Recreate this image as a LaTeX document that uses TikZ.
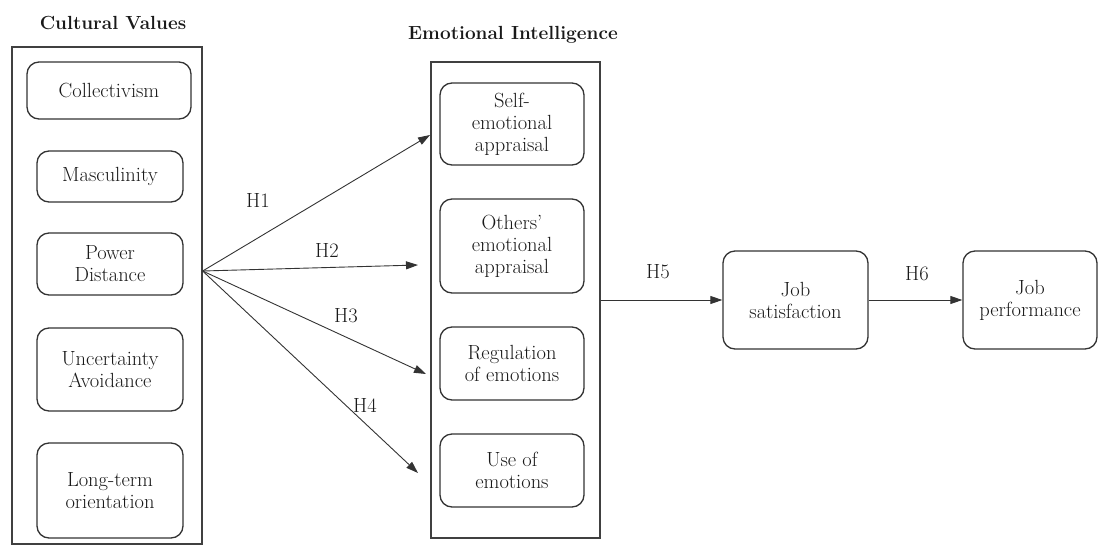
\documentclass[tikz,border=0pt]{standalone}
\usetikzlibrary{arrows.meta}
\begin{document}
\begin{tikzpicture}[x=1pt,y=-1pt,
  every node/.style={font=\fontsize{20.5}{22}\selectfont, text=black!90},
  inbox/.style={draw=black!80, line width=1.3pt, rounded corners=12pt, align=center, inner sep=0pt},
  outbox/.style={draw=black!75, line width=1.3pt, inner sep=0pt},
  ttl/.style={font=\fontsize{19}{22}\selectfont\bfseries},
  hyp/.style={font=\fontsize{20.5}{22}\selectfont},
  arr/.style={draw=black!80, line width=0.9pt, -{Triangle[length=12pt,width=8pt]}}]
\useasboundingbox (0,0) rectangle (1098,544);
% outer boxes
\node[outbox, minimum width=190pt, minimum height=497pt] (cv) at (107,295.5) {};
\node[outbox, minimum width=169pt, minimum height=476pt] (ei) at (515.5,300) {};
\node[ttl] (cvt) at (113,23) {Cultural Values};
\node[ttl] (eit) at (513,35) {Emotional Intelligence};
% cultural values
\node[inbox, minimum width=164pt, minimum height=57pt] (col) at (109,90.5) {Collectivism};
\node[inbox, minimum width=146pt, minimum height=51pt] (mas) at (110,176.5) {Masculinity};
\node[inbox, minimum width=146pt, minimum height=62pt] (pd) at (110,264) {Power\\Distance};
\node[inbox, minimum width=146pt, minimum height=83pt] (ua) at (110,369.5) {Uncertainty\\Avoidance};
\node[inbox, minimum width=146pt, minimum height=95pt] (lt) at (110,490.5) {Long-term\\orientation};
% emotional intelligence
\node[inbox, minimum width=144pt, minimum height=82pt] (sea) at (512,124) {Self-\\emotional\\appraisal};
\node[inbox, minimum width=144pt, minimum height=94pt] (oea) at (512,246) {Others'\\emotional\\appraisal};
\node[inbox, minimum width=144pt, minimum height=73pt] (roe) at (512,363.5) {Regulation\\of emotions};
\node[inbox, minimum width=144pt, minimum height=73pt] (uoe) at (512,470.5) {Use of\\emotions};
% outcomes
\node[inbox, minimum width=145pt, minimum height=98pt] (js) at (795.5,300) {Job\\satisfaction};
\node[inbox, minimum width=134pt, minimum height=98pt] (jp) at (1030,300) {Job\\performance};
% connectors
\coordinate (src) at (cv.east |- 0,271);
\coordinate (e1) at (430,135);
\coordinate (e2) at (418,265);
\coordinate (e3) at (426,374);
\coordinate (e4) at (418,473);
\draw[arr] (src) -- (e1);
\draw[arr] (src) -- (e2);
\draw[arr] (src) -- (e3);
\draw[arr] (src) -- (e4);
\draw[arr] (ei.east) -- (js.west);
\draw[arr] (js.east) -- (jp.west);
\node[hyp] (h1) at (258,200) {H1};
\node[hyp] (h2) at (327,250) {H2};
\node[hyp] (h3) at (346,316) {H3};
\node[hyp] (h4) at (365,405) {H4};
\node[hyp] (h5) at (658,272) {H5};
\node[hyp] (h6) at (917,274) {H6};
\end{tikzpicture}
\end{document}
